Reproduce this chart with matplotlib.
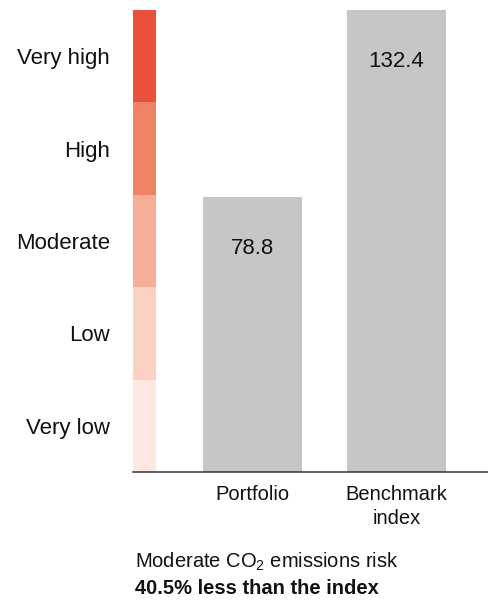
import matplotlib
matplotlib.use("Agg")
import matplotlib.pyplot as plt

# Set fonts
plt.rcParams['font.family'] = ['Liberation Sans', 'DejaVu Sans']
plt.rcParams['mathtext.fontset'] = 'custom'
plt.rcParams['mathtext.rm'] = 'Liberation Sans'

# Data
categories = ["Portfolio", "Benchmark\nindex"]
values = [78.8, 132.4]
risk_levels = ["Very low", "Low", "Moderate", "High", "Very high"]
level_edges = [0, 26.5, 53.0, 79.5, 106.0, 132.5]
level_colors = ["#fde8e1", "#fad1c3", "#f6ae96", "#ef8264", "#e9513a"]
summary_line1 = "Moderate CO$_{\\mathregular{2}}$ emissions risk"
summary_line2 = "40.5% less than the index"

bar_color = "#c6c6c6"
text_color = "#111111"

fig = plt.figure(figsize=(4.89, 6.0), dpi=100)
ax = fig.add_axes([133 / 489, 128 / 600, 356 / 489, 472 / 600])

# Risk scale band on the left
band_left = 0.170
band_width = 0.16
for i in range(len(risk_levels)):
    ax.bar(band_left, level_edges[i + 1] - level_edges[i], bottom=level_edges[i],
           width=band_width, align='edge', color=level_colors[i], linewidth=0)

# Bars
positions = [1, 2]
bars = ax.bar(positions, values, width=0.6875, color=bar_color, linewidth=0)
for x, v in zip(positions, values):
    ax.annotate("{0}".format(v), xy=(x, v), xytext=(0, -36.5), textcoords='offset points',
                ha='center', va='center', fontsize=16, color=text_color)

ax.set_xlim(band_left, band_left + 356 / 144)
ax.set_ylim(0, 135.4)

# Level labels as y ticks
centers = [(level_edges[i] + level_edges[i + 1]) / 2 for i in range(len(risk_levels))]
ax.set_yticks(centers)
ax.set_yticklabels(risk_levels, fontsize=16, color=text_color)
ax.tick_params(axis='y', length=0, pad=16.5)

ax.set_xticks(positions)
ax.set_xticklabels(categories, fontsize=14.5, color=text_color, linespacing=1.4)
ax.tick_params(axis='x', length=0, pad=9)

for side in ['top', 'right', 'left']:
    ax.spines[side].set_visible(False)
ax.spines['bottom'].set_color('#333333')
ax.spines['bottom'].set_linewidth(1.1)

# Summary text
fig.text(135 / 489, (600 - 568) / 600, summary_line1, fontsize=14.5, color=text_color, va='baseline')
fig.text(135 / 489, (600 - 594) / 600, summary_line2, fontsize=14.5, fontweight='bold',
         color=text_color, va='baseline')

fig.savefig("out.png", dpi=100)
